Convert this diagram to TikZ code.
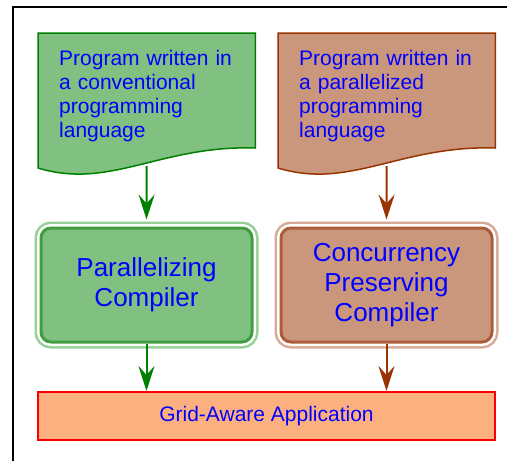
\documentclass[tikz,border=0pt]{standalone}
\usepackage{fontspec}
\setmainfont{Liberation Sans}
\usetikzlibrary{positioning,arrows.meta,backgrounds}
\definecolor{vertfond}{RGB}{128,192,128}
\definecolor{vertfonce}{RGB}{0,128,0}
\definecolor{vertbord}{RGB}{64,158,64}
\definecolor{vertclair}{RGB}{150,208,150}
\definecolor{brunfond}{RGB}{203,151,124}
\definecolor{brunfonce}{RGB}{153,51,0}
\definecolor{brunbord}{RGB}{172,92,58}
\definecolor{brunclair}{RGB}{214,170,150}
\definecolor{orangefond}{RGB}{253,176,127}
\begin{document}
\begin{tikzpicture}[x=1pt,y=-1pt,
    doc/.style={anchor=north west, text width=175pt, inner xsep=21pt, inner ysep=17pt,
      align=left, text=blue, font=\fontsize{21}{24}\selectfont},
    comp/.style n args={3}{rounded corners=10pt, minimum width=211pt, minimum height=114pt,
      align=center, text=blue, font=\fontsize{26}{30}\selectfont,
      preaction={draw=#3, line width=13pt}, preaction={draw=white, line width=8pt},
      fill=#1, draw=#2, line width=3pt},
    fleche/.style={-{Stealth[length=25pt,width=16pt,inset=9pt]}, line width=2pt}]
    \clip (0,0) rectangle (507,461);
    % cadre
    \draw[line width=2pt] (13,7) rectangle (540,500);
    % programmes source
    \node[doc] (docA) at (38,33) {Program written in\\a conventional\\programming\\language};
    \node[doc] (docB) at (278,33) {Program written in\\a parallelized\\programming\\language};
    \begin{scope}[on background layer]
      \filldraw[fill=vertfond, draw=vertfonce, line width=1.5pt] (docA.north west) -- (docA.north east)
        -- ([yshift=-115pt]docA.north east) .. controls +(-95,-3) and +(72,22) .. ([yshift=-135pt]docA.north west) -- cycle;
      \filldraw[fill=brunfond, draw=brunfonce, line width=1.5pt] (docB.north west) -- (docB.north east)
        -- ([yshift=-115pt]docB.north east) .. controls +(-95,-3) and +(72,22) .. ([yshift=-135pt]docB.north west) -- cycle;
    \end{scope}
    \coordinate (baseA) at ([yshift=-133pt]docA.north);
    \coordinate (baseB) at ([yshift=-133pt]docB.north);
    % compilateurs
    \node[comp={vertfond}{vertbord}{vertclair}] (compA) at (146.5,285) {Parallelizing\\Compiler};
    \node[comp={brunfond}{brunbord}{brunclair}] (compB) at (386.5,285) {Concurrency\\Preserving\\Compiler};
    % application
    \node[fill=orangefond, draw=red, line width=2pt, minimum width=457pt, minimum height=48pt,
      text=blue, font=\fontsize{21}{24}\selectfont] (app) at (266.5,416) {Grid-Aware Application};
    % fleches
    \draw[fleche, vertfonce, shorten >=7pt] (baseA) -- (compA.north);
    \draw[fleche, brunfonce, shorten >=7pt] (baseB) -- (compB.north);
    \draw[fleche, vertfonce] (compA.south) -- (app.north -| compA.south);
    \draw[fleche, brunfonce] (compB.south) -- (app.north -| compB.south);
  \end{tikzpicture}
\end{document}
